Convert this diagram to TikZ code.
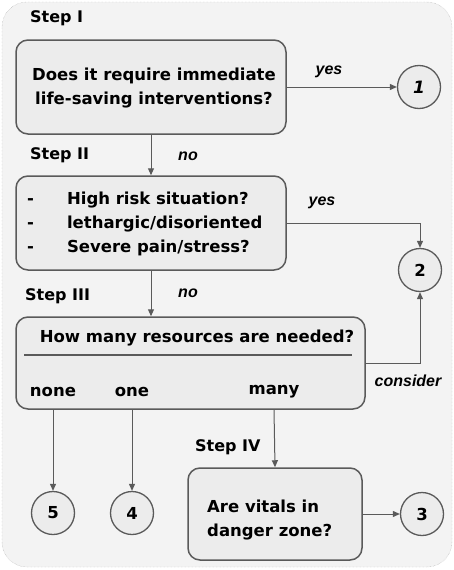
\documentclass[tikz,border=0pt]{standalone}
\usepackage{fontspec}
\setmainfont{DejaVu Sans}
\newfontfamily\lblfont{Liberation Sans}
\usetikzlibrary{arrows.meta}
\definecolor{bord}{HTML}{5A5A5A}
\definecolor{bgc}{HTML}{F3F3F3}
\definecolor{boxc}{HTML}{ECECEC}
\tikzset{
  stepbox/.style={draw=bord, line width=1.5pt, fill=boxc, rounded corners=12pt},
  endc/.style={circle, draw=bord, line width=1.3pt, fill=boxc, minimum size=43pt, inner sep=0pt, font=\bfseries\fontsize{16.5}{16.5}\selectfont},
  conn/.style={draw=bord, line width=1pt, -{Triangle[length=7pt,width=6pt]}},
  lbl/.style={font=\lblfont\bfseries\itshape\fontsize{16}{16}\selectfont, inner sep=0pt},
  steplbl/.style={font=\bfseries\fontsize{16}{16}\selectfont, inner sep=0pt, anchor=west},
  btxt/.style={font=\bfseries\fontsize{16.5}{24}\selectfont, inner sep=0pt, align=center},
}
\begin{document}
\begin{tikzpicture}[x=1pt,y=-1pt]
\useasboundingbox (0,0) rectangle (454,570);
\draw[densely dotted, draw=gray!70, fill=bgc, rounded corners=25pt] (2,2) rectangle (452,567);
% boxes
\node[stepbox, minimum width=270pt, minimum height=94pt] (b1) at (151,87) {};
\node[btxt] (t1) at (154,88) {Does it require immediate\\life-saving interventions?};
\node[stepbox, minimum width=270pt, minimum height=94pt] (b2) at (151,223) {};
\node[btxt, align=left, anchor=west] (t2) at (27,224) {-\hspace{33pt}High risk situation?\\-\hspace{33pt}lethargic/disoriented\\-\hspace{33pt}Severe pain/stress?};
\node[stepbox, minimum width=349pt, minimum height=92pt] (b3) at (190.5,363) {};
\node[btxt] (t3) at (197,338) {How many resources are needed?};
\draw[draw=bord, line width=1.5pt] (24,355) -- (352,355);
\node[btxt] (none) at (53,392) {none};
\node[btxt] (one) at (132,392) {one};
\node[btxt] (many) at (274,392) {many};
\node[stepbox, minimum width=174pt, minimum height=92pt] (b4) at (275,514) {};
\node[btxt, align=left, anchor=west] (t4) at (207,520) {Are vitals in\\danger zone?};
% circles
\node[endc, font=\bfseries\itshape\fontsize{17}{17}\selectfont] (c1) at (419,87) {1};
\node[endc] (c2) at (420,270) {2};
\node[endc] (c3) at (422,514) {3};
\node[endc] (c4) at (132,513) {4};
\node[endc] (c5) at (53,513) {5};
% step labels
\node[steplbl] (s1) at (30,18) {Step I};
\node[steplbl] (s2) at (30,155) {Step II};
\node[steplbl] (s3) at (25,296) {Step III};
\node[steplbl] (s4) at (195,447) {Step IV};
% edge labels
\node[lbl] (ly1) at (329,72) {yes};
\node[lbl] (ln1) at (188,156) {no};
\node[lbl] (ly2) at (322,203) {yes};
\node[lbl] (ln2) at (188,293) {no};
\node[lbl] (lc) at (408,381) {consider};
% connectors
\draw[conn] (b1.east |- c1) -- (c1.west);
\draw[conn] (b1.south) -- (b2.north);
\draw[conn] (b2.east) -| (c2.north);
\draw[conn] (b2.south) -- (b2.south |- b3.north);
\draw[conn] (b3.east) -| (c2.south);
\draw[conn] (none |- b3.south) -- (c5.north);
\draw[conn] (one |- b3.south) -- (c4.north);
\draw[conn] (many |- b3.south) -- (b4.north);
\draw[conn] (b4.east |- c3) -- (c3.west);
\end{tikzpicture}
\end{document}
